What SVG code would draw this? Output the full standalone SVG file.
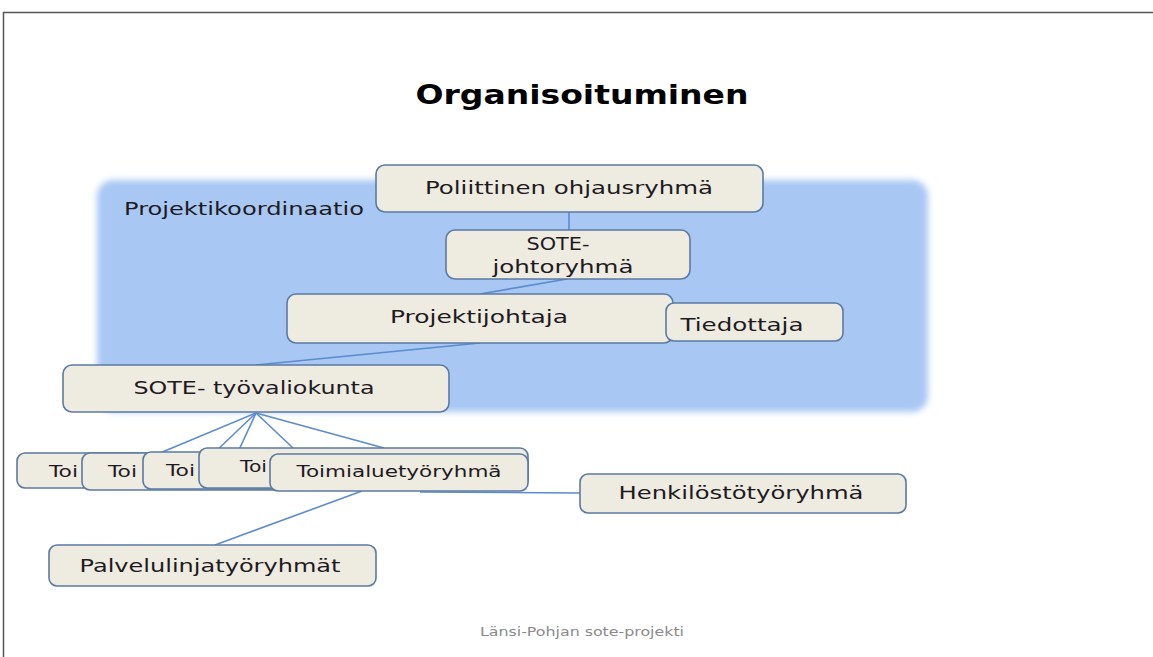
<svg xmlns="http://www.w3.org/2000/svg" width="1153" height="657" viewBox="0 0 1153 657">
<defs>
<filter id="soft" x="-5%" y="-5%" width="110%" height="110%"><feGaussianBlur stdDeviation="3"/></filter>
</defs>
<style>
.box{fill:#eeebe1;stroke:#5b7aa3;stroke-width:1.6}
.t{font-family:"DejaVu Sans",Verdana,sans-serif;font-size:18px;fill:#1e1a22;text-anchor:middle}
.s{font-size:16px}
.c{stroke:#5b8bd0;stroke-width:1.6;fill:none}
</style>
<rect width="1153" height="657" fill="#ffffff"/>
<g id="frame" stroke="#555" stroke-width="1.5" fill="none">
<line x1="3.5" y1="12" x2="3.5" y2="657"/>
<line x1="3" y1="12.5" x2="1153" y2="12.5"/>
</g>
<text id="title" x="582" y="104" font-family="DejaVu Sans,Verdana,sans-serif" font-weight="bold" font-size="27" text-anchor="middle" fill="#000" textLength="333" lengthAdjust="spacingAndGlyphs">Organisoituminen</text>
<g id="coordination">
<rect x="97" y="180" width="831" height="232" rx="16" fill="#a8c8f3" filter="url(#soft)"/>
<text class="t" x="124" y="215" style="text-anchor:start" textLength="240" lengthAdjust="spacingAndGlyphs">Projektikoordinaatio</text>
</g>
<g id="connectors" class="c">
<line x1="569" y1="212" x2="569" y2="230"/>
<line x1="567" y1="279" x2="480" y2="294"/>
<line x1="480" y1="343" x2="256" y2="365"/>
<line x1="256" y1="413" x2="160" y2="453"/>
<line x1="256" y1="413" x2="214" y2="453"/>
<line x1="256" y1="413" x2="238" y2="452"/>
<line x1="256" y1="413" x2="293" y2="448"/>
<line x1="256" y1="413" x2="384" y2="448"/>
<line x1="362" y1="491" x2="215" y2="545"/>
<line x1="420" y1="492" x2="580" y2="493"/>
</g>
<g id="n-poliittinen"><rect class="box" x="376" y="165" width="387" height="47" rx="9"/><text class="t" x="569" y="194" textLength="288" lengthAdjust="spacingAndGlyphs">Poliittinen ohjausryhmä</text></g>
<g id="n-sotejohto"><rect class="box" x="446" y="230" width="244" height="49" rx="9"/><text class="t" x="558" y="250" textLength="63" lengthAdjust="spacingAndGlyphs">SOTE-</text><text class="t" x="563" y="273" textLength="141" lengthAdjust="spacingAndGlyphs">johtoryhmä</text></g>
<g id="n-projektijohtaja"><rect class="box" x="287" y="294" width="386" height="49" rx="9"/><text class="t" x="479" y="323" textLength="178" lengthAdjust="spacingAndGlyphs">Projektijohtaja</text></g>
<g id="n-tiedottaja"><rect class="box" x="666" y="303" width="177" height="38" rx="8"/><text class="t" x="742" y="331" textLength="123" lengthAdjust="spacingAndGlyphs">Tiedottaja</text></g>
<g id="n-tyovaliokunta"><rect class="box" x="63" y="365" width="386" height="47" rx="9"/><text class="t" x="254" y="394" textLength="241" lengthAdjust="spacingAndGlyphs">SOTE- työvaliokunta</text></g>
<g id="n-toi1"><rect class="box" x="17" y="453" width="245" height="35" rx="8"/><text class="t s" x="49" y="477" style="text-anchor:start" textLength="29" lengthAdjust="spacingAndGlyphs">Toi</text></g>
<g id="n-toi2"><rect class="box" x="82" y="453" width="230" height="37" rx="8"/><text class="t s" x="108" y="477" style="text-anchor:start" textLength="29" lengthAdjust="spacingAndGlyphs">Toi</text></g>
<g id="n-toi3"><rect class="box" x="143" y="452" width="220" height="37" rx="8"/><text class="t s" x="166" y="476" style="text-anchor:start" textLength="29" lengthAdjust="spacingAndGlyphs">Toi</text></g>
<g id="n-toi4"><rect class="box" x="199" y="448" width="329" height="40" rx="8"/><text class="t s" x="240" y="472" style="text-anchor:start" textLength="27" lengthAdjust="spacingAndGlyphs">Toi</text></g>
<g id="n-toimialue"><rect class="box" x="270" y="454" width="258" height="37" rx="8"/><text class="t s" x="399" y="477" textLength="205" lengthAdjust="spacingAndGlyphs">Toimialuetyöryhmä</text></g>
<g id="n-henkilosto"><rect class="box" x="580" y="474" width="326" height="39" rx="8"/><text class="t" x="741" y="499" textLength="245" lengthAdjust="spacingAndGlyphs">Henkilöstötyöryhmä</text></g>
<g id="n-palvelulinja"><rect class="box" x="49" y="545" width="327" height="41" rx="8"/><text class="t" x="210" y="572" textLength="261" lengthAdjust="spacingAndGlyphs">Palvelulinjatyöryhmät</text></g>
<text id="footer" x="582" y="636" font-family="DejaVu Sans,Verdana,sans-serif" font-size="12" text-anchor="middle" fill="#8a8a8a" textLength="204" lengthAdjust="spacingAndGlyphs">Länsi-Pohjan sote-projekti</text>
</svg>
